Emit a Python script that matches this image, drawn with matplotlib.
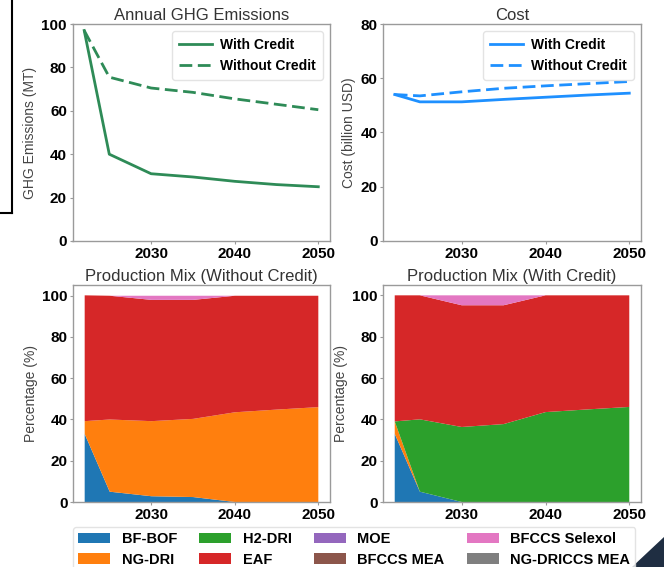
import matplotlib
matplotlib.use("Agg")
import matplotlib.pyplot as plt
from matplotlib.patches import Patch, Polygon
from matplotlib.lines import Line2D

plt.rcParams['font.family'] = ['Liberation Sans', 'DejaVu Sans']

years = [2022, 2025, 2030, 2035, 2040, 2045, 2050]
xticks = [2030, 2040, 2050]

ghg_with = [97, 40, 31, 29.5, 27.5, 26, 25]
ghg_without = [97, 75.5, 70.5, 68.5, 65.5, 63, 60.5]

cost_with = [54, 51.3, 51.3, 52.2, 53, 53.8, 54.5]
cost_without = [54, 53.5, 55, 56.3, 57.2, 58, 58.8]

techs = ["BF-BOF", "NG-DRI", "H2-DRI", "EAF", "MOE", "BFCCS MEA",
         "BFCCS Selexol", "NG-DRICCS MEA"]
tech_colors = ["#1f77b4", "#ff7f0e", "#2ca02c", "#d62728", "#9467bd",
               "#8c564b", "#e377c2", "#7f7f7f"]

# Without credit
wo_bfbof = [33, 5, 2.8, 2.4, 0, 0, 0]
wo_ngdri = [6.2, 35, 36.4, 37.9, 43.5, 44.8, 46]
wo_h2dri = [0, 0, 0, 0, 0, 0, 0]
wo_moe = [0, 0, 0, 0, 0, 0, 0]
wo_bfccs_mea = [0, 0, 0, 0, 0, 0, 0]
wo_selexol = [0, 0, 2, 2, 0, 0, 0]
wo_ngccs = [0, 0, 0, 0, 0, 0, 0]
wo_eaf = [61, 60, 58.8, 57.7, 56.5, 55.2, 54]

# With credit
w_bfbof = [33, 5, 0, 0, 0, 0, 0]
w_ngdri = [6, 0, 0, 0, 0, 0, 0]
w_h2dri = [0, 35, 36.3, 37.7, 43.5, 44.8, 46]
w_moe = [0, 0, 0, 0, 0, 0, 0]
w_bfccs_mea = [0, 0, 0, 0, 0, 0, 0]
w_selexol = [0, 0, 4.8, 4.8, 0, 0, 0]
w_ngccs = [0, 0, 0, 0, 0, 0, 0]
w_eaf = [61, 60, 58.9, 57.5, 56.5, 55.2, 54]

W, H = 664, 567
fig = plt.figure(figsize=(W / 100, H / 100), dpi=100)


def ax_at(l, t, r, b):
    return fig.add_axes([l / W, 1 - b / H, (r - l) / W, (b - t) / H])


SPINE = "#9a9a9a"
TITLE_C = "#333333"
LABEL_C = "#444444"
DASH = (4.6, 2.0)


def style(ax, title, ylabel):
    for s in ax.spines.values():
        s.set_color(SPINE)
        s.set_linewidth(1.0)
    ax.tick_params(colors=SPINE, labelcolor="black", length=2.5, width=0.8,
                   labelsize=11, pad=1.5)
    ax.set_xticks(xticks)
    ax.set_xticklabels([str(t) for t in xticks])
    for lab in ax.get_xticklabels() + ax.get_yticklabels():
        lab.set_fontweight("bold")
    ax.set_title(title, fontsize=12, color=TITLE_C, pad=3)
    ax.set_ylabel(ylabel, fontsize=10, color=LABEL_C, labelpad=3)


# GHG
ax1 = ax_at(72.5, 24, 330, 241)
ax1.plot(years, ghg_with, color="#2e8b57", lw=2, label="With Credit")
ax1.plot(years, ghg_without, color="#2e8b57", lw=2, ls=(0, DASH),
         label="Without Credit")
ax1.set_ylim(0, 100)
ax1.set_yticks([0, 20, 40, 60, 80, 100])
style(ax1, "Annual GHG Emissions", "GHG Emissions (MT)")
ax1.legend(loc="upper right", prop={"weight": "bold", "size": 10},
           handlelength=2.4, handletextpad=0.6, borderpad=0.5,
           edgecolor="#dddddd")

# Cost
ax2 = ax_at(383, 24, 641, 241)
ax2.plot(years, cost_with, color="#1e90ff", lw=2, label="With Credit")
ax2.plot(years, cost_without, color="#1e90ff", lw=2, ls=(0, DASH),
         label="Without Credit")
ax2.set_ylim(0, 80)
ax2.set_yticks([0, 20, 40, 60, 80])
style(ax2, "Cost", "Cost (billion USD)")
ax2.legend(loc="upper right", prop={"weight": "bold", "size": 10},
           handlelength=2.4, handletextpad=0.6, borderpad=0.5,
           edgecolor="#dddddd")

# Production mixes
ax3 = ax_at(73, 285, 330, 502)
ax3.stackplot(years, wo_bfbof, wo_ngdri, wo_h2dri, wo_eaf, wo_moe,
              wo_bfccs_mea, wo_selexol, wo_ngccs, colors=tech_colors,
              labels=techs, lw=0)
ax3.set_yticks([0, 20, 40, 60, 80, 100])
style(ax3, "Production Mix (Without Credit)", "Percentage (%)")

ax4 = ax_at(383, 285, 641, 502)
ax4.stackplot(years, w_bfbof, w_ngdri, w_h2dri, w_eaf, w_moe,
              w_bfccs_mea, w_selexol, w_ngccs, colors=tech_colors,
              labels=techs, lw=0)
ax4.set_yticks([0, 20, 40, 60, 80, 100])
style(ax4, "Production Mix (With Credit)", "Percentage (%)")

handles = [Patch(facecolor=c, edgecolor="none") for c in tech_colors]
fig.legend(handles, techs, loc="upper left", ncol=4,
           bbox_to_anchor=(73 / W, 1 - 527 / H), borderaxespad=0,
           prop={"weight": "bold", "size": 10.5},
           columnspacing=1.5, handlelength=2.2, handletextpad=0.8,
           edgecolor="#dddddd", borderpad=0.35, labelspacing=0.45)

# Screenshot artifacts: black box at the top-left, dark corner at bottom-right
fig.add_artist(Line2D([12 / W, 12 / W], [1, 1 - 213 / H], color="black",
                      lw=1.5, transform=fig.transFigure))
fig.add_artist(Line2D([0, 12 / W], [1 - 213 / H, 1 - 213 / H],
                      color="black", lw=1.5, transform=fig.transFigure))
fig.add_artist(Polygon([(632 / W, 0), (1, 0), (1, 30 / H)], closed=True,
                       facecolor="#1f2e42", edgecolor="none",
                       transform=fig.transFigure))

fig.savefig("out.png", dpi=100)
